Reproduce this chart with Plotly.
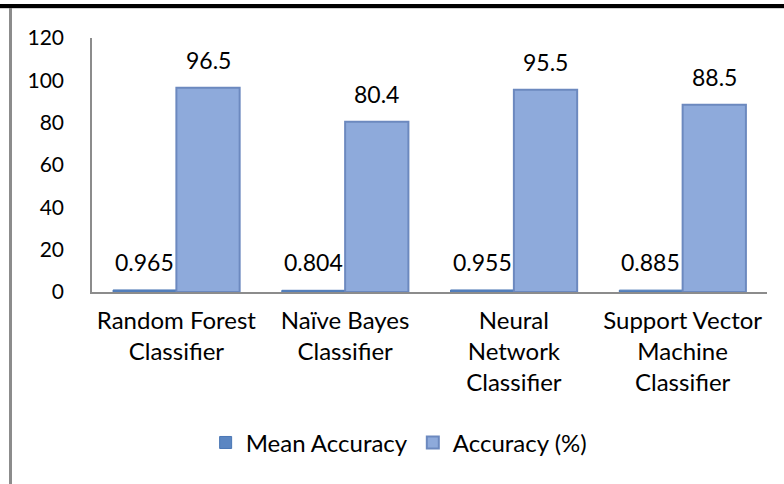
import plotly.graph_objects as go

categories = ["Random Forest<br>Classifier", "Naïve Bayes<br>Classifier",
              "Neural<br>Network<br>Classifier", "Support Vector<br>Machine<br>Classifier"]
mean_accuracy = [0.965, 0.804, 0.955, 0.885]
accuracy_pct = [96.5, 80.4, 95.5, 88.5]
y_ticks = [0, 20, 40, 60, 80, 100, 120]

FONT = "Lato"
FS_TICK = 21
FS_CAT = 24
FS_LABEL = 23

W, H = 784, 484
L, T = 92, 38
PW, PH = 675, 254
BARGAP = 0.25

fig = go.Figure()
fig.add_trace(go.Bar(
    name="Mean Accuracy", x=categories, y=mean_accuracy,
    marker=dict(color="#5B86C2", line=dict(color="#4A76B4", width=1)),
))
fig.add_trace(go.Bar(
    name="Accuracy (%)", x=categories, y=accuracy_pct,
    marker=dict(color="#8EAADB", line=dict(color="#6C89BF", width=2)),
))

# value labels above each bar, positioned through the category/value axes
half = (1 - BARGAP) / 4
annotations = []
for i, (m, a) in enumerate(zip(mean_accuracy, accuracy_pct)):
    for off, v in ((-half, m), (half, a)):
        annotations.append(dict(
            x=i + off, y=v, xref="x", yref="y", text=str(v), showarrow=False,
            yanchor="bottom", yshift=12,
            font=dict(family=FONT, size=FS_LABEL, color="#000000")))

fig.update_layout(
    width=W, height=H,
    margin=dict(l=L, r=W - L - PW, t=T, b=H - T - PH, autoexpand=False),
    paper_bgcolor="white", plot_bgcolor="white",
    font=dict(family=FONT, size=FS_CAT, color="#000000"),
    barmode="group", bargap=BARGAP, bargroupgap=0,
    showlegend=True,
    legend=dict(orientation="h", x=0.455, xanchor="center", y=-0.594, yanchor="middle",
                font=dict(family=FONT, size=FS_CAT), itemwidth=30, tracegroupgap=0),
    xaxis=dict(showline=True, linecolor="#8C8C8C", linewidth=2, ticks="",
               ticklabelstandoff=6,
               tickfont=dict(family=FONT, size=FS_CAT), showgrid=False),
    yaxis=dict(range=[0, 120], tickvals=y_ticks, showline=True, linecolor="#8C8C8C",
               linewidth=1.5, showgrid=False, zeroline=False, ticks="",
               ticklabelstandoff=22, tickfont=dict(family=FONT, size=FS_TICK)),
    annotations=annotations,
    shapes=[
        dict(type="line", xref="paper", yref="paper", x0=-0.2, x1=1.1,
             y0=(PH + T - 6) / PH, y1=(PH + T - 6) / PH, line=dict(color="black", width=4)),
        dict(type="line", xref="paper", yref="paper", x0=-0.2, x1=1.1,
             y0=(PH + T - 8.5) / PH, y1=(PH + T - 8.5) / PH, line=dict(color="#D0D0D0", width=1)),
        dict(type="line", xref="paper", yref="paper", x0=(10.5 - L) / PW, x1=(10.5 - L) / PW,
             y0=(PH + T - 8) / PH, y1=-(H - T - PH + 10) / PH, line=dict(color="#8C8C8C", width=3)),
    ],
)

fig.write_html("out.html", config={"displayModeBar": False},
               post_script="document.body.style.margin='0';document.body.style.overflow='hidden';")
